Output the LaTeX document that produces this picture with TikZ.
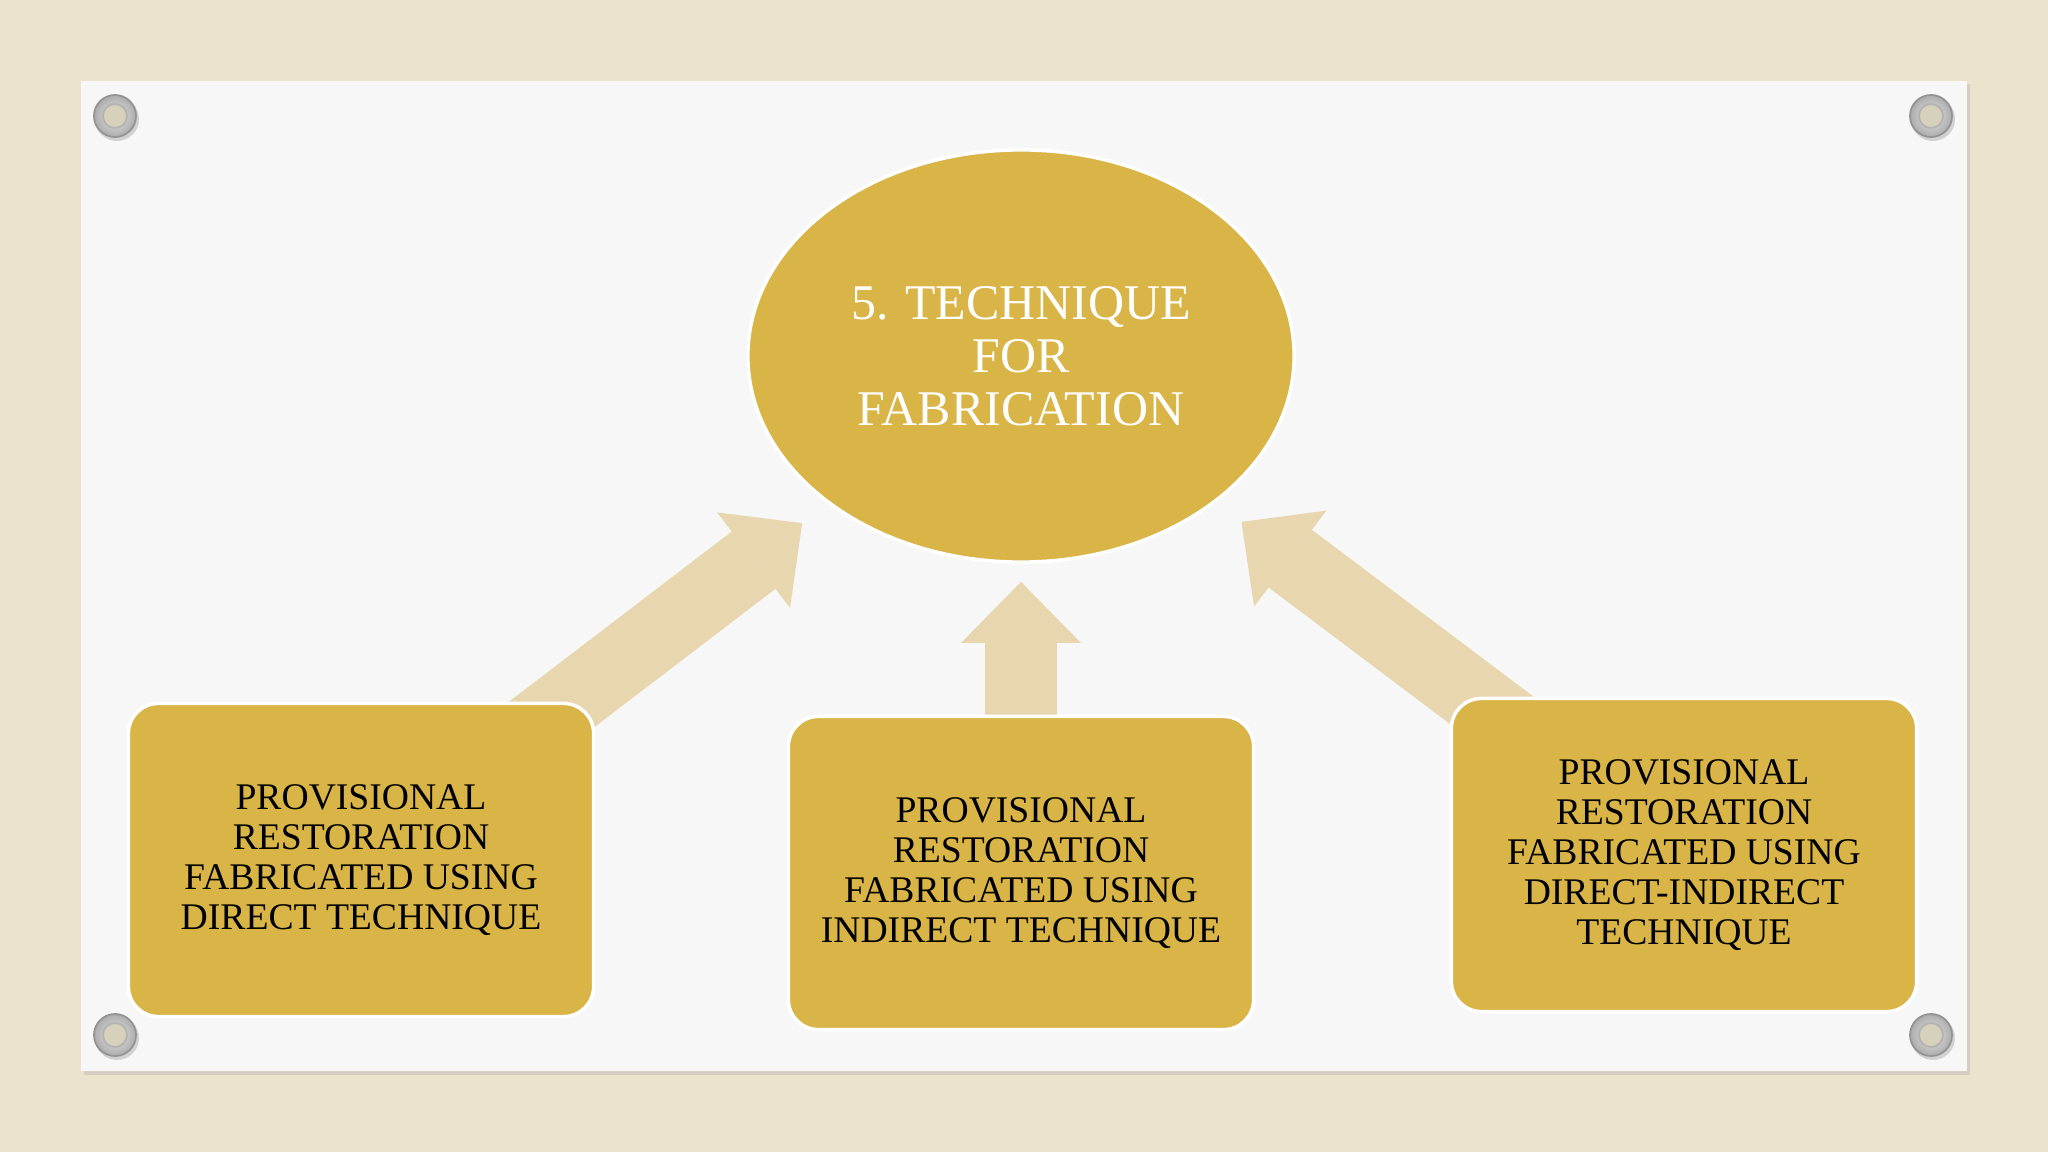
\documentclass[tikz,border=0pt]{standalone}
\usepackage{fontspec}
\setmainfont{Liberation Serif}
\usetikzlibrary{arrows.meta,shapes.geometric}
\definecolor{canvas}{RGB}{235,227,205}
\definecolor{panel}{RGB}{247,247,247}
\definecolor{gold}{RGB}{217,180,70}
\definecolor{tan}{RGB}{232,214,174}
\definecolor{hole}{RGB}{214,209,186}
\pgfdeclarelayer{back}
\pgfdeclarelayer{mid}
\pgfsetlayers{back,mid,main}

\begin{document}
\begin{tikzpicture}[
  x=0.01cm, y=-0.01cm,
  topic/.style={ellipse,fill=gold,draw=white,line width=1pt,minimum width=5.46cm,minimum height=4.12cm,inner sep=0pt,align=center,text=white,font=\fontsize{14.2}{15.1}\selectfont},
  box/.style={rectangle,rounded corners=0.3cm,fill=gold,draw=white,line width=1pt,minimum width=4.65cm,minimum height=3.13cm,inner sep=0pt,align=center,font=\fontsize{10.7}{11.4}\selectfont},
  bigarrow/.style={tan,line width=0.72cm,-{Triangle[length=0.61cm,width=1.2cm,line width=0pt]}},
  ring/.style={inner color=gray!20,outer color=gray!65,draw=gray!85,line width=0.5pt}
]
\useasboundingbox (0,0) rectangle (2048,1152);

% canvas and paper
\begin{pgfonlayer}{back}
\fill[canvas] (0,0) rectangle (2048,1152);
\fill[black!30,opacity=0.4] (84,84) rectangle (1970,1075);
\fill[panel] (81,81) rectangle (1967,1071);
\end{pgfonlayer}

\node[topic] (tech) at (1021,356) {5. TECHNIQUE\\FOR\\FABRICATION};
\node[box] (direct) at (361,860) {PROVISIONAL\\RESTORATION\\FABRICATED USING\\DIRECT TECHNIQUE};
\node[box] (indirect) at (1021,873) {PROVISIONAL\\RESTORATION\\FABRICATED USING\\INDIRECT TECHNIQUE};
\node[box] (mixed) at (1684,855) {PROVISIONAL\\RESTORATION\\FABRICATED USING\\DIRECT-INDIRECT\\TECHNIQUE};

\begin{pgfonlayer}{mid}
\draw[bigarrow,shorten >=0.32cm] (direct.center) -- (tech);
\draw[bigarrow,shorten >=0.18cm] (indirect.center) -- (tech);
\draw[bigarrow,shorten >=0.32cm] (mixed.center) -- (tech);
\end{pgfonlayer}

% grommets
\foreach \gx/\gy in {115/116,1931/116,115/1035,1931/1035} {
  \fill[black!40,opacity=0.4] (\gx+2,\gy+3) circle[radius=0.22cm];
  \shade[ring] (\gx,\gy) circle[radius=0.21cm];
  \fill[hole] (\gx,\gy) circle[radius=0.12cm];
  \draw[gray!60,line width=0.5pt] (\gx,\gy) circle[radius=0.12cm];
}
\end{tikzpicture}
\end{document}
